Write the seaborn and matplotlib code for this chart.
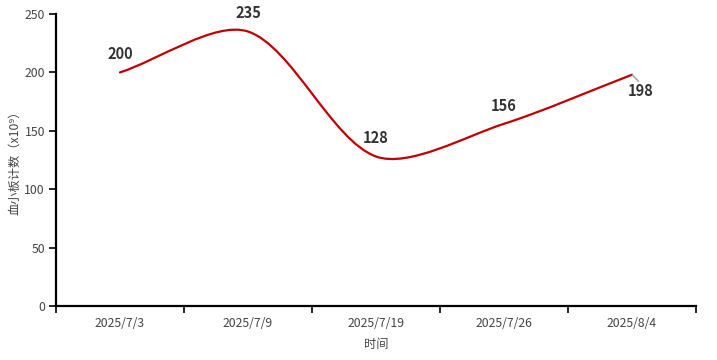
import numpy as np
import seaborn as sns
import matplotlib.pyplot as plt
from matplotlib.path import Path
from matplotlib.patches import PathPatch

# ==========================
# Data
# ==========================
dates = ['2025/7/3', '2025/7/9', '2025/7/19', '2025/7/26', '2025/8/4']
platelets = [200, 235, 128, 156, 198]
y_ticks = [0, 50, 100, 150, 200, 250]

sns.set_style('ticks')
plt.rcParams['font.family'] = ['Noto Sans CJK SC', 'DejaVu Sans']

fig = plt.figure(figsize=(7.17, 3.6), dpi=100)
ax = fig.add_axes([56 / 717, 54 / 360, 640 / 717, 292 / 360])

x = np.arange(len(dates))
ax.set_xlim(-0.5, len(dates) - 0.5)
ax.set_ylim(0, 250)

# ==========================
# Smooth line (cubic bezier through the points, echarts style)
# ==========================
sx, sy = 128.0, 292 / 250  # pixels per data unit, for distance ratios
pts = np.column_stack([x, platelets]).astype(float)
smooth = 0.3
n = len(pts)
cp_in = [None] * n
cp_out = [None] * n
for i in range(n):
    p = pts[i]
    prev = pts[i - 1] if i > 0 else p
    nxt = pts[i + 1] if i < n - 1 else p
    v = nxt - prev
    d0 = np.hypot((p[0] - prev[0]) * sx, (p[1] - prev[1]) * sy)
    d1 = np.hypot((nxt[0] - p[0]) * sx, (nxt[1] - p[1]) * sy)
    r = d1 / (d0 + d1)
    cp_in[i] = p - v * smooth * (1 - r)
    cp_out[i] = p + v * smooth * r

verts = [pts[0]]
codes = [Path.MOVETO]
for i in range(n - 1):
    verts += [cp_out[i], cp_in[i + 1], pts[i + 1]]
    codes += [Path.CURVE4] * 3
ax.add_patch(PathPatch(Path(verts, codes), facecolor='none', edgecolor='#c00000',
                       lw=1.6, capstyle='round', joinstyle='round', zorder=3))

# ==========================
# Value labels
# ==========================
for i, v in enumerate(platelets):
    if i == n - 1:
        # short grey guide line, label pushed below the point
        ax.annotate('', xy=(x[i], v), xytext=(4.5, -4.5),
                    textcoords='offset points',
                    arrowprops=dict(arrowstyle='-', color='#aaaaaa', lw=1.3,
                                    shrinkA=0, shrinkB=0.5))
        ax.annotate(str(v), xy=(x[i], v), xytext=(6, -12),
                    textcoords='offset points', ha='center', va='center',
                    fontsize=10.5, fontweight='bold', color='#333333')
    else:
        ax.annotate(str(v), xy=(x[i], v), xytext=(0, 13),
                    textcoords='offset points', ha='center', va='center',
                    fontsize=10.5, fontweight='bold', color='#333333')

# ==========================
# Axes styling
# ==========================
ax.set_xticks(np.arange(-0.5, len(dates), 1.0))
ax.set_xticklabels([])
ax.set_xticks(x, minor=True)
ax.set_xticklabels(dates, minor=True)
ax.tick_params(axis='x', which='major', length=5, width=1.2, color='black')
ax.tick_params(axis='x', which='minor', length=0, pad=8, labelsize=8.8,
               labelcolor='#444444')
ax.set_yticks(y_ticks)
ax.tick_params(axis='y', length=5, width=1.2, color='black', pad=3,
               labelsize=8.8, labelcolor='#444444')

sns.despine(ax=ax)
for side in ['left', 'bottom']:
    ax.spines[side].set_linewidth(1.6)
    ax.spines[side].set_color('black')

ax.set_xlabel('时间', fontsize=8.8, color='#444444', labelpad=6)
ax.set_ylabel('血小板计数（x10⁹）', fontsize=8.8, color='#444444', labelpad=2)

fig.savefig('out.png', dpi=100)
